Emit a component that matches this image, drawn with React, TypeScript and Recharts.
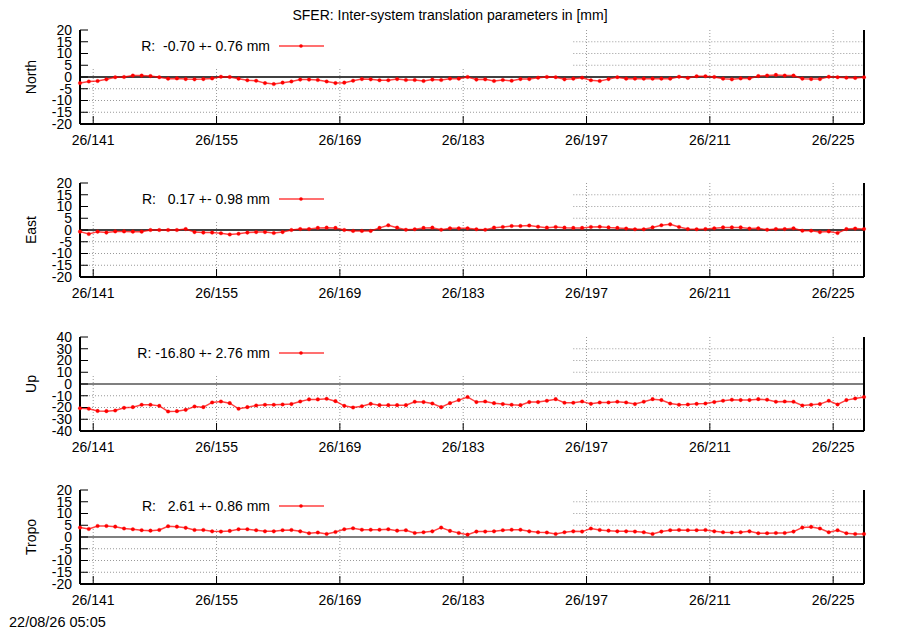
import { LineChart, Line, XAxis, YAxis, ReferenceLine, Legend } from 'recharts';

const FONT = '"Liberation Sans", Arial, Helvetica, sans-serif';

// day-of-year axis (year 26); one solution per day, plotted at noon
const firstDay = 139.5;
const lastDay = 228.5;
const majorDays = [141, 155, 169, 183, 197, 211, 225];
const minorDays = [148, 162, 176, 190, 204, 218];
const keyEndDay = 195.5;

const ticks20 = [-20, -15, -10, -5, 0, 5, 10, 15, 20];
const ticks40 = [-40, -30, -20, -10, 0, 10, 20, 30, 40];

const northValues = [
  -2.6, -1.9, -1.7, -1.0, -0.1, 0, 0.6, 0.6, 0.4, -0.1,
  -0.7, -0.6, -0.9, -1.0, -0.9, -0.6, 0.1, 0, -0.7, -1.4,
  -1.6, -2.6, -3.0, -2.4, -1.9, -1.1, -1.1, -1.3, -1.9, -2.6,
  -2.4, -1.6, -0.9, -1.0, -1.4, -1.4, -0.9, -1.3, -1.3, -1.7,
  -1.1, -1.3, -0.7, -0.7, 0,
  -1.1, -1.0, -1.7, -1.3, -1.6, -0.9, -0.9, -0.3, 0, -0.1,
  -1.0, -0.7, -0.3, -1.4, -1.7, -0.9, -0.1, -0.7, -0.7, -0.7,
  -0.7, -0.7, -0.7, 0.1, -0.4, 0.3, 0.3, 0, -0.7, -1.0,
  -0.6, -0.6, 0.4, 0.6, 0.9, 0.6, 0.6, -0.7, -0.9, -0.9,
  0.1, -0.1, -0.3, -0.4, -0.1,
];

const eastValues = [
  -0.7, -1.7, -0.7, -1.1, -0.6, -0.6, -0.7, -0.7, 0, 0,
  0, 0, 0.4, -0.9, -1.1, -1.1, -1.4, -1.9, -1.6, -1.1,
  -0.9, -0.9, -1.3, -0.9, 0, 0.4, 0.4, 0.9, 1.0, 0.9,
  0, -0.4, -0.4, -0.4, 0.9, 2.0, 1.0, 0.1, 0.3, 0.9,
  1.0, 0.1, 0.7, 0.7, 0.7,
  0.3, 0.1, 1.0, 1.3, 1.7, 1.7, 1.9, 1.4, 1.0, 1.3,
  1.0, 0.9, 0.9, 1.3, 1.4, 1.1, 0.9, 0.6, 0.3, 0.3,
  1.1, 2.0, 2.4, 1.3, 0.4, 0.3, 0.4, 0.7, 1.1, 1.1,
  1.1, 0.6, 0.7, 0.1, 0.4, 0.4, 0.7, -0.3, -0.3, -0.9,
  -0.6, -1.3, 0.4, 0.6, 0.4,
];

const upValues = [
  -20.6, -21.1, -22.9, -23.1, -22.6, -20.3, -19.7, -17.7, -17.7, -18.6,
  -23.4, -23.1, -22.0, -19.1, -19.7, -15.7, -14.9, -16.3, -21.1, -19.7,
  -18.3, -17.7, -17.7, -17.4, -17.1, -14.9, -13.1, -13.1, -12.6, -14.6,
  -18.6, -20.0, -18.9, -16.9, -18.0, -18.0, -18.0, -18.0, -15.1, -15.4,
  -16.6, -19.7, -16.3, -13.7, -11.1,
  -15.4, -14.9, -16.3, -17.1, -17.7, -18.0, -15.4, -15.4, -14.3, -12.9,
  -16.0, -16.0, -14.9, -16.9, -15.7, -15.7, -15.1, -15.7, -17.1, -15.1,
  -12.9, -13.7, -16.6, -17.7, -17.4, -16.9, -16.6, -15.4, -14.3, -13.4,
  -13.7, -13.7, -12.9, -13.4, -15.1, -14.9, -15.1, -18.3, -17.7, -17.1,
  -14.3, -17.4, -13.7, -12.3, -11.1,
];

const tropoValues = [
  4.0, 3.4, 4.7, 4.7, 4.4, 3.6, 3.3, 2.9, 2.7, 3.0,
  4.6, 4.4, 3.9, 3.0, 3.0, 2.4, 2.3, 2.6, 3.3, 3.3,
  2.9, 2.4, 2.4, 2.9, 3.0, 2.4, 1.6, 1.9, 1.3, 2.1,
  3.3, 3.7, 3.1, 3.1, 3.1, 3.3, 2.7, 2.9, 1.7, 2.0,
  2.4, 4.0, 2.6, 1.7, 1.0,
  2.3, 2.3, 2.4, 2.9, 3.1, 3.1, 2.4, 2.0, 1.9, 1.3,
  2.0, 2.4, 2.3, 3.6, 3.0, 2.7, 2.4, 2.4, 2.3, 2.0,
  1.3, 2.3, 2.9, 3.0, 2.9, 2.9, 3.0, 2.4, 2.0, 1.9,
  2.0, 2.4, 1.6, 1.6, 1.7, 1.7, 2.3, 4.0, 4.3, 3.6,
  2.0, 2.9, 1.6, 1.3, 1.3,
];

const panelNames = ['North', 'East', 'Up', 'Tropo'];
const panelStats = [
  'R:  -0.70 +- 0.76 mm',
  'R:   0.17 +- 0.98 mm',
  'R: -16.80 +- 2.76 mm',
  'R:   2.61 +- 0.86 mm',
];
const panelValues = [northValues, eastValues, upValues, tropoValues];
const panelTicks = [ticks20, ticks20, ticks40, ticks20];
const panelTops = [30, 183, 337, 490];

const RED = '#ff0000';
const GRID = '#999';
const tickStyle = { fill: '#000', fontSize: 14, fontFamily: FONT };

function AxisTitle(props: any) {
  const vb = props.viewBox || { x: 0, y: 10, width: 80, height: 94 };
  const cx = vb.x + 31;
  const cy = vb.y + vb.height / 2;
  return (
    <text
      x={cx}
      y={cy}
      transform={`rotate(-90, ${cx}, ${cy})`}
      textAnchor="middle"
      dominantBaseline="central"
      fontSize={14}
      fontFamily={FONT}
      fill="#000"
    >
      {props.text}
    </text>
  );
}

function Key({ text }: { text: string }) {
  return (
    <div style={{ position: 'relative', width: 900, height: 16, fontFamily: FONT, fontSize: 14, lineHeight: '16px', color: '#000' }}>
      <span style={{ position: 'absolute', right: 630, top: 0, whiteSpace: 'pre' }}>{text}</span>
      <svg style={{ position: 'absolute', left: 279, top: 0 }} width={45} height={16}>
        <line x1={0} y1={8} x2={45} y2={8} stroke={RED} strokeOpacity={0.75} strokeWidth={1.5} />
        <circle cx={22} cy={8} r={1.8} fill={RED} />
      </svg>
    </div>
  );
}

function Panel({ index }: { index: number }) {
  const yTicks = panelTicks[index];
  const yMin = yTicks[0];
  const yMax = yTicks[yTicks.length - 1];
  // the opaque key box hides the grid in the upper-left part of each panel
  const keyBottom = yMax - (yMax - yMin) * 0.41;
  const data = panelValues[index].map((v, i) => ({ day: firstDay + i, v }));

  const hGrid = yTicks.filter((y) => y !== 0 && y !== yMin && y !== yMax);
  const vGrid = majorDays;

  return (
    <div style={{ position: 'absolute', left: 0, top: panelTops[index] - 10 }}>
      <LineChart width={900} height={134} data={data} margin={{ top: 10, right: 0, bottom: 0, left: 0 }}>
        {hGrid.map((y) => (
          <ReferenceLine
            key={`h${y}`}
            xAxisId="major"
            yAxisId="left"
            segment={[
              { x: y > keyBottom ? keyEndDay : firstDay, y },
              { x: lastDay, y },
            ]}
            stroke={GRID}
            strokeDasharray="1 2"
          />
        ))}
        {vGrid.map((d) => (
          <ReferenceLine
            key={`v${d}`}
            xAxisId="major"
            yAxisId="left"
            segment={[
              { x: d, y: yMin },
              { x: d, y: d < keyEndDay ? keyBottom : yMax },
            ]}
            stroke={GRID}
            strokeDasharray="1 2"
          />
        ))}
        <ReferenceLine xAxisId="major" yAxisId="left" y={0} stroke="#000" strokeWidth={index < 2 ? 1.6 : 1.1} />
        <XAxis
          xAxisId="minor"
          type="number"
          dataKey="day"
          domain={[firstDay, lastDay]}
          ticks={minorDays}
          interval={0}
          height={0}
          tickSize={-4}
          tickFormatter={() => ''}
          axisLine={false}
          tickLine={{ stroke: '#000' }}
        />
        <XAxis
          xAxisId="major"
          type="number"
          dataKey="day"
          domain={[firstDay, lastDay]}
          ticks={majorDays}
          interval={0}
          height={30}
          tickSize={-8}
          tickMargin={19}
          tickFormatter={(d: number) => `26/${d}`}
          tick={tickStyle}
          axisLine={{ stroke: '#000', strokeWidth: 2 }}
          tickLine={{ stroke: '#000' }}
        />
        <XAxis
          xAxisId="minorTop"
          orientation="top"
          type="number"
          dataKey="day"
          domain={[firstDay, lastDay]}
          ticks={minorDays}
          interval={0}
          height={0}
          tickSize={-4}
          tickFormatter={() => ''}
          axisLine={false}
          tickLine={{ stroke: '#000' }}
        />
        <XAxis
          xAxisId="majorTop"
          orientation="top"
          type="number"
          dataKey="day"
          domain={[firstDay, lastDay]}
          ticks={majorDays}
          interval={0}
          height={0}
          tickSize={-8}
          tickFormatter={() => ''}
          axisLine={{ stroke: '#000', strokeWidth: 2 }}
          tickLine={{ stroke: '#000' }}
        />
        <YAxis
          yAxisId="left"
          type="number"
          domain={[yMin, yMax]}
          ticks={yTicks}
          interval={0}
          width={80}
          tickSize={-8}
          tickMargin={16}
          tick={tickStyle}
          axisLine={{ stroke: '#000', strokeWidth: 2 }}
          tickLine={{ stroke: '#000' }}
          label={{ value: panelNames[index], content: (p: any) => <AxisTitle {...p} text={panelNames[index]} /> }}
        />
        <YAxis
          yAxisId="right"
          orientation="right"
          type="number"
          domain={[yMin, yMax]}
          ticks={yTicks}
          interval={0}
          width={36}
          tickSize={-8}
          tickFormatter={() => ''}
          axisLine={{ stroke: '#000', strokeWidth: 2 }}
          tickLine={{ stroke: '#000' }}
        />
        <Legend
          layout="horizontal"
          verticalAlign="middle"
          align="center"
          wrapperStyle={{ left: 0, top: 17.7, width: 900 }}
          content={() => <Key text={panelStats[index]} />}
        />
        <Line
          xAxisId="major"
          yAxisId="left"
          type="linear"
          dataKey="v"
          stroke={RED}
          strokeOpacity={0.75}
          strokeWidth={1.5}
          dot={{ r: 1.8, fill: RED, stroke: RED, strokeWidth: 0.4 }}
          isAnimationActive={false}
        />
      </LineChart>
    </div>
  );
}

export default function App() {
  return (
    <div style={{ position: 'absolute', left: 0, top: 0, width: 900, height: 630, background: '#fff', overflow: 'hidden', fontFamily: FONT }}>
      <div style={{ position: 'absolute', left: 0, top: 7, width: 900, textAlign: 'center', fontSize: 14, lineHeight: '16px' }}>
        SFER: Inter-system translation parameters in [mm]
      </div>
      {panelNames.map((_, i) => (
        <Panel key={i} index={i} />
      ))}
      <div style={{ position: 'absolute', left: 9, top: 615, fontSize: 14.5, lineHeight: '15px' }}>22/08/26 05:05</div>
    </div>
  );
}
